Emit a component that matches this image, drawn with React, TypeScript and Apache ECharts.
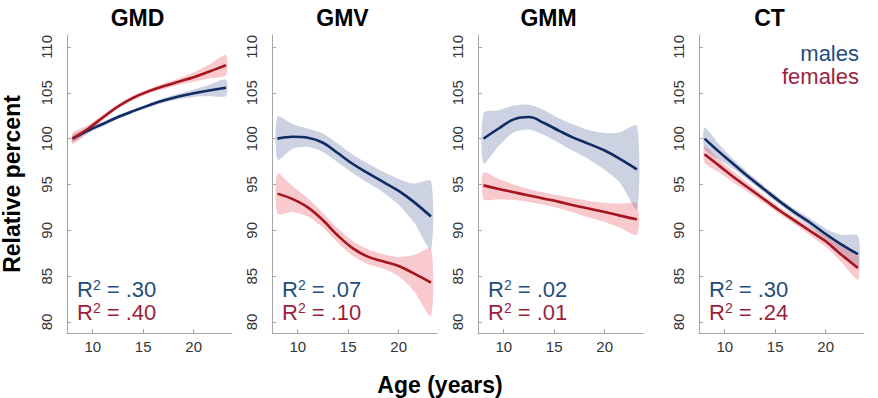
import React, { useEffect, useRef } from 'react';
import * as echarts from 'echarts';

// Ages (years) at which the fitted curves and their confidence bands are sampled
const ages = [8, 9.5, 11, 12.5, 14, 15.5, 17, 18.5, 20, 21.5, 23.2];

const titles = ['GMD', 'GMV', 'GMM', 'CT'];
const yTicks = [80, 85, 90, 95, 100, 105, 110];
const xTicks = [10, 15, 20];

// GMD
const gmdMales = [100.0, 100.85, 101.6, 102.35, 103.0, 103.6, 104.15, 104.6, 104.95, 105.25, 105.55];
const gmdMalesLo = [99.6, 100.55, 101.35, 102.15, 102.8, 103.4, 103.9, 104.3, 104.55, 104.65, 104.65];
const gmdMalesHi = [100.4, 101.15, 101.85, 102.55, 103.2, 103.8, 104.4, 104.9, 105.35, 105.85, 106.45];
const gmdFemales = [100.0, 101.05, 102.3, 103.5, 104.45, 105.15, 105.7, 106.2, 106.7, 107.3, 108.0];
const gmdFemalesLo = [99.4, 100.65, 102.0, 103.25, 104.2, 104.9, 105.4, 105.85, 106.2, 106.55, 106.9];
const gmdFemalesHi = [100.6, 101.45, 102.6, 103.75, 104.7, 105.4, 106.0, 106.55, 107.2, 108.05, 109.1];

// GMV
const gmvMales = [100.0, 100.2, 100.1, 99.55, 98.4, 97.2, 96.2, 95.25, 94.3, 93.1, 91.5];
const gmvMalesLo = [97.7, 98.9, 99.1, 98.55, 97.4, 96.2, 95.15, 94.1, 92.8, 90.9, 87.9];
const gmvMalesHi = [102.4, 101.6, 101.1, 100.55, 99.4, 98.2, 97.25, 96.35, 95.6, 95.1, 95.35];
const gmvFemales = [94.0, 93.4, 92.5, 91.1, 89.4, 88.0, 87.1, 86.6, 86.1, 85.3, 84.3];
const gmvFemalesLo = [91.8, 92.0, 91.5, 90.3, 88.6, 87.2, 86.3, 85.8, 85.0, 83.4, 80.6];
const gmvFemalesHi = [96.2, 94.8, 93.5, 91.9, 90.2, 88.8, 87.9, 87.4, 87.1, 87.3, 88.0];

// GMM
const gmmMales = [100.0, 101.1, 102.1, 102.35, 101.7, 100.85, 100.05, 99.4, 98.7, 97.8, 96.65];
const gmmMalesLo = [97.3, 99.2, 100.7, 101.0, 100.4, 99.5, 98.6, 97.7, 96.6, 95.2, 92.3];
const gmmMalesHi = [102.8, 103.1, 103.6, 103.7, 103.1, 102.2, 101.5, 100.9, 100.6, 100.7, 101.4];
const gmmFemales = [94.9, 94.5, 94.15, 93.8, 93.45, 93.1, 92.7, 92.35, 92.0, 91.6, 91.2];
const gmmFemalesLo = [93.4, 93.4, 93.3, 93.1, 92.8, 92.4, 91.9, 91.4, 90.9, 90.3, 89.5];
const gmmFemalesHi = [96.3, 95.6, 95.0, 94.5, 94.1, 93.8, 93.5, 93.2, 93.0, 92.9, 92.9];

// CT
const ctMales = [100.0, 98.5, 97.1, 95.7, 94.4, 93.1, 91.9, 90.8, 89.6, 88.5, 87.4];
const ctMalesLo = [98.8, 97.7, 96.6, 95.3, 94.05, 92.75, 91.5, 90.35, 89.0, 87.6, 85.9];
const ctMalesHi = [101.2, 99.3, 97.6, 96.1, 94.75, 93.45, 92.3, 91.25, 90.2, 89.5, 89.4];
const ctFemales = [98.3, 97.0, 95.7, 94.5, 93.3, 92.1, 91.0, 89.9, 88.8, 87.4, 85.9];
const ctFemalesLo = [97.4, 96.3, 95.1, 94.0, 92.9, 91.7, 90.6, 89.4, 88.2, 86.6, 84.6];
const ctFemalesHi = [99.2, 97.7, 96.3, 95.0, 93.7, 92.5, 91.4, 90.4, 89.4, 88.3, 87.2];

const r2Males = ['.30', '.07', '.02', '.30'];
const r2Females = ['.40', '.10', '.01', '.24'];

const panels = [
  { m: gmdMales, mLo: gmdMalesLo, mHi: gmdMalesHi, f: gmdFemales, fLo: gmdFemalesLo, fHi: gmdFemalesHi },
  { m: gmvMales, mLo: gmvMalesLo, mHi: gmvMalesHi, f: gmvFemales, fLo: gmvFemalesLo, fHi: gmvFemalesHi },
  { m: gmmMales, mLo: gmmMalesLo, mHi: gmmMalesHi, f: gmmFemales, fLo: gmmFemalesLo, fHi: gmmFemalesHi },
  { m: ctMales, mLo: ctMalesLo, mHi: ctMalesHi, f: ctFemales, fLo: ctFemalesLo, fHi: ctFemalesHi },
];

const FONT = '"Liberation Sans", Arial, Helvetica, sans-serif';
const MALE_LINE = '#0f2b63';
const FEMALE_LINE = '#a5141f';
const MALE_TEXT = '#1f4d7c';
const FEMALE_TEXT = '#9c1f3c';
const MALE_BAND = 'rgba(105, 122, 170, 0.34)';
const FEMALE_BAND = 'rgba(232, 80, 90, 0.30)';
const AXIS_GREY = '#a6a6a6';

const gridLefts = [67, 272, 478, 699];
const GRID_W = 165;
const GRID_TOP = 35;
const GRID_H = 298;

function bandRenderer(lo: number[], hi: number[], fill: string) {
  return (params: any, api: any) => {
    if (params.dataIndex !== 0) return null;
    const pts: number[][] = [];
    ages.forEach((a, k) => pts.push(api.coord([a, hi[k]])));
    for (let k = ages.length - 1; k >= 0; k--) pts.push(api.coord([ages[k], lo[k]]));
    return {
      type: 'polygon',
      shape: { points: pts, smooth: 0.25 },
      style: { fill },
      silent: true,
    };
  };
}

// Two-line R² block: males on the first line, females on the second
function r2Block(male: string, female: string, x: number, y: number) {
  const big = (fill: string) => ({ fontSize: 22, lineHeight: 23, fontFamily: FONT, fill });
  const sup = (fill: string) => ({ fontSize: 14, lineHeight: 14, fontFamily: FONT, fill, verticalAlign: 'top' });
  return {
    type: 'text',
    x,
    y,
    style: {
      text: `{bm|R}{sm|2}{bm| = ${male}}\n{bf|R}{sf|2}{bf| = ${female}}`,
      verticalAlign: 'middle',
      rich: {
        bm: big(MALE_TEXT),
        sm: sup(MALE_TEXT),
        bf: big(FEMALE_TEXT),
        sf: sup(FEMALE_TEXT),
      },
    },
  };
}

export default function App() {
  const ref = useRef<HTMLDivElement>(null);

  useEffect(() => {
    if (!ref.current) return;
    const chart = echarts.init(ref.current, undefined, { renderer: 'svg' });

    const grid = gridLefts.map((left) => ({ left, top: GRID_TOP, width: GRID_W, height: GRID_H }));

    const xAxis = gridLefts.map((_, i) => ({
      type: 'value',
      gridIndex: i,
      min: 7.45,
      max: 23.8,
      axisLine: { show: true, lineStyle: { color: AXIS_GREY, width: 1 } },
      axisTick: { show: true, inside: true, length: 4, customValues: xTicks, lineStyle: { color: AXIS_GREY } },
      axisLabel: { customValues: xTicks, color: '#333', fontSize: 15, fontFamily: FONT, margin: 6 },
      splitLine: { show: false },
    }));

    const yAxis = gridLefts.map((_, i) => ({
      type: 'value',
      gridIndex: i,
      min: 78.8,
      max: 111.3,
      axisLine: { show: true, lineStyle: { color: AXIS_GREY, width: 1 } },
      axisTick: { show: true, inside: true, length: 4, customValues: yTicks, lineStyle: { color: AXIS_GREY } },
      axisLabel: { customValues: yTicks, color: '#333', fontSize: 15, fontFamily: FONT, rotate: 90, margin: 13 },
      splitLine: { show: false },
    }));

    const series: any[] = [];
    panels.forEach((p, i) => {
      series.push({
        type: 'custom',
        xAxisIndex: i,
        yAxisIndex: i,
        data: ages.map((a, k) => [a, p.mLo[k], p.mHi[k]]),
        encode: { x: 0, y: [1, 2] },
        renderItem: bandRenderer(p.mLo, p.mHi, MALE_BAND),
        z: 1,
      });
      series.push({
        type: 'custom',
        xAxisIndex: i,
        yAxisIndex: i,
        data: ages.map((a, k) => [a, p.fLo[k], p.fHi[k]]),
        encode: { x: 0, y: [1, 2] },
        renderItem: bandRenderer(p.fLo, p.fHi, FEMALE_BAND),
        z: 1,
      });
      series.push({
        type: 'line',
        name: 'males',
        xAxisIndex: i,
        yAxisIndex: i,
        data: ages.map((a, k) => [a, p.m[k]]),
        smooth: 0.4,
        symbol: 'none',
        lineStyle: { color: MALE_LINE, width: 2.6 },
        z: 3,
      });
      series.push({
        type: 'line',
        name: 'females',
        xAxisIndex: i,
        yAxisIndex: i,
        data: ages.map((a, k) => [a, p.f[k]]),
        smooth: 0.4,
        symbol: 'none',
        lineStyle: { color: FEMALE_LINE, width: 2.6 },
        z: 4,
      });
    });

    const titleOffsets = gridLefts.map((l) => l + GRID_W / 2 - 12);

    const graphic: any[] = [];
    titles.forEach((t, i) => {
      graphic.push({
        type: 'text',
        x: titleOffsets[i],
        y: 18,
        style: {
          text: t,
          align: 'center',
          verticalAlign: 'middle',
          fontSize: 23,
          fontWeight: 'bold',
          fontFamily: FONT,
          fill: '#000',
        },
      });
      graphic.push(r2Block(r2Males[i], r2Females[i], gridLefts[i] + 10, 301));
    });

    graphic.push({
      type: 'text',
      x: 859,
      y: 64.5,
      style: {
        text: '{m|males}\n{f|females}',
        align: 'right',
        verticalAlign: 'middle',
        rich: {
          m: { fontSize: 22, lineHeight: 23, fontFamily: FONT, fill: MALE_TEXT, align: 'right' },
          f: { fontSize: 22, lineHeight: 23, fontFamily: FONT, fill: FEMALE_TEXT, align: 'right' },
        },
      },
    });
    graphic.push({
      type: 'text',
      x: 12,
      y: 184,
      rotation: Math.PI / 2,
      style: {
        text: 'Relative percent',
        align: 'center',
        verticalAlign: 'middle',
        fontSize: 23,
        fontWeight: 'bold',
        fontFamily: FONT,
        fill: '#000',
      },
    });
    graphic.push({
      type: 'text',
      x: 440,
      y: 385,
      style: {
        text: 'Age (years)',
        align: 'center',
        verticalAlign: 'middle',
        fontSize: 23,
        fontWeight: 'bold',
        fontFamily: FONT,
        fill: '#000',
      },
    });

    chart.setOption({
      animation: false,
      backgroundColor: '#fff',
      grid,
      xAxis,
      yAxis,
      series,
      graphic,
    });

    return () => chart.dispose();
  }, []);

  return (
    <div
      ref={ref}
      style={{ position: 'absolute', left: 0, top: 0, width: 878, height: 398 }}
    />
  );
}
